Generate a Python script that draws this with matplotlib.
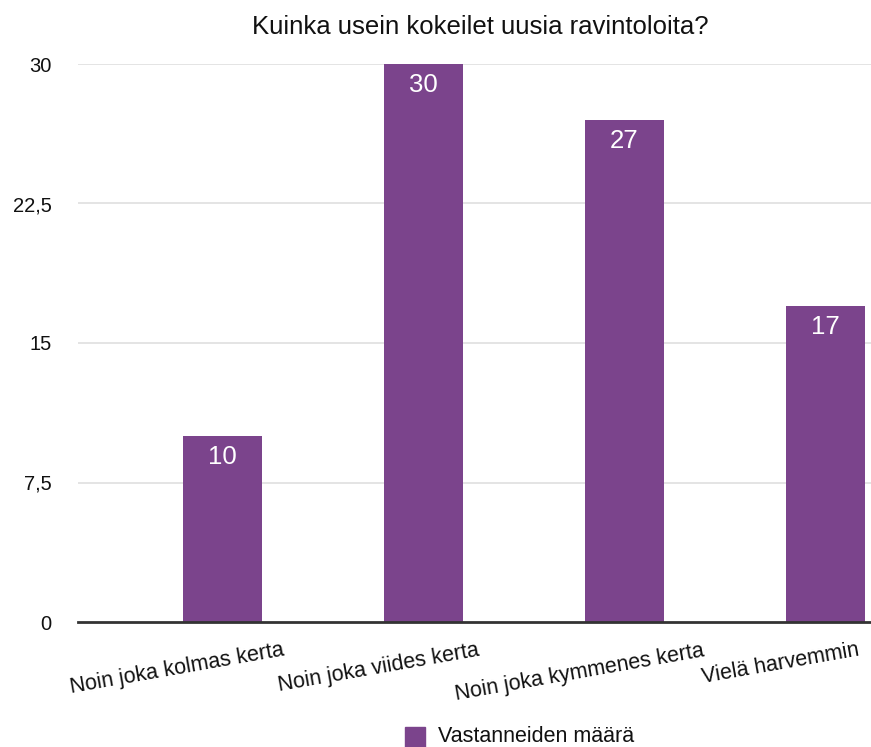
import matplotlib
matplotlib.use("Agg")
import matplotlib.pyplot as plt
from matplotlib.transforms import blended_transform_factory
from matplotlib.patches import Rectangle

plt.rcParams['font.family'] = ['Liberation Sans', 'DejaVu Sans']

title = "Kuinka usein kokeilet uusia ravintoloita?"
categories = ["Noin joka kolmas kerta", "Noin joka viides kerta",
              "Noin joka kymmenes kerta", "Vielä harvemmin"]
values = [10, 30, 27, 17]
yticks = [0, 7.5, 15, 22.5, 30]
ytick_labels = ["0", "7,5", "15", "22,5", "30"]
series_name = "Vastanneiden määrä"

W, H = 871, 747
color = "#7B448C"

fig = plt.figure(figsize=(W / 100, H / 100), dpi=100)
ax_left, ax_right, ax_top, ax_bottom = 78, 871, 64, 622
ax = fig.add_axes([ax_left / W, 1 - ax_bottom / H, (ax_right - ax_left) / W, (ax_bottom - ax_top) / H])

x = list(range(len(categories)))
bars = ax.bar(x, values, width=0.393, color=color, zorder=3)

spacing = 201.0
x0 = 222.5
ax.set_xlim((ax_left - x0) / spacing, (ax_right - x0) / spacing)
ax.set_ylim(0, 30)

ax.set_yticks(yticks)
ax.set_yticklabels(ytick_labels, fontsize=14.5, color='#111111')
ax.tick_params(axis='y', length=0, pad=19)
ax.set_xticks([])
for s in ['top', 'right', 'left']:
    ax.spines[s].set_visible(False)
ax.spines['bottom'].set_color('#333333')
ax.spines['bottom'].set_linewidth(2)
ax.spines['bottom'].set_zorder(4)

for yv in yticks[1:]:
    ax.axhline(yv, color='#dcdcdc', linewidth=1.1, zorder=1)

# value labels inside bars
for xi, v in zip(x, values):
    ax.annotate(str(v), (xi, v), xytext=(0, -21), textcoords='offset pixels',
                ha='center', va='center', color='white', fontsize=18.5, zorder=5)

# category labels
trans = blended_transform_factory(ax.transData, ax.transAxes)
for xi, c in zip(x, categories):
    ax.text(xi - 0.225, -18 / (ax_bottom - ax_top), c, transform=trans,
            rotation=10, ha='center', va='top', fontsize=15.5, color='#111111')

fig.text(480 / W, 1 - 27 / H, title, ha='center', va='center', fontsize=18.5, color='#111111')

# legend
fig.patches.append(Rectangle((405 / W, 1 - 747 / H), 20 / W, 20 / H,
                             transform=fig.transFigure, color=color, figure=fig))
fig.text(438 / W, 1 - 737 / H, series_name, ha='left', va='center', fontsize=15.5, color='#111111')

fig.savefig("out.png", dpi=100)
